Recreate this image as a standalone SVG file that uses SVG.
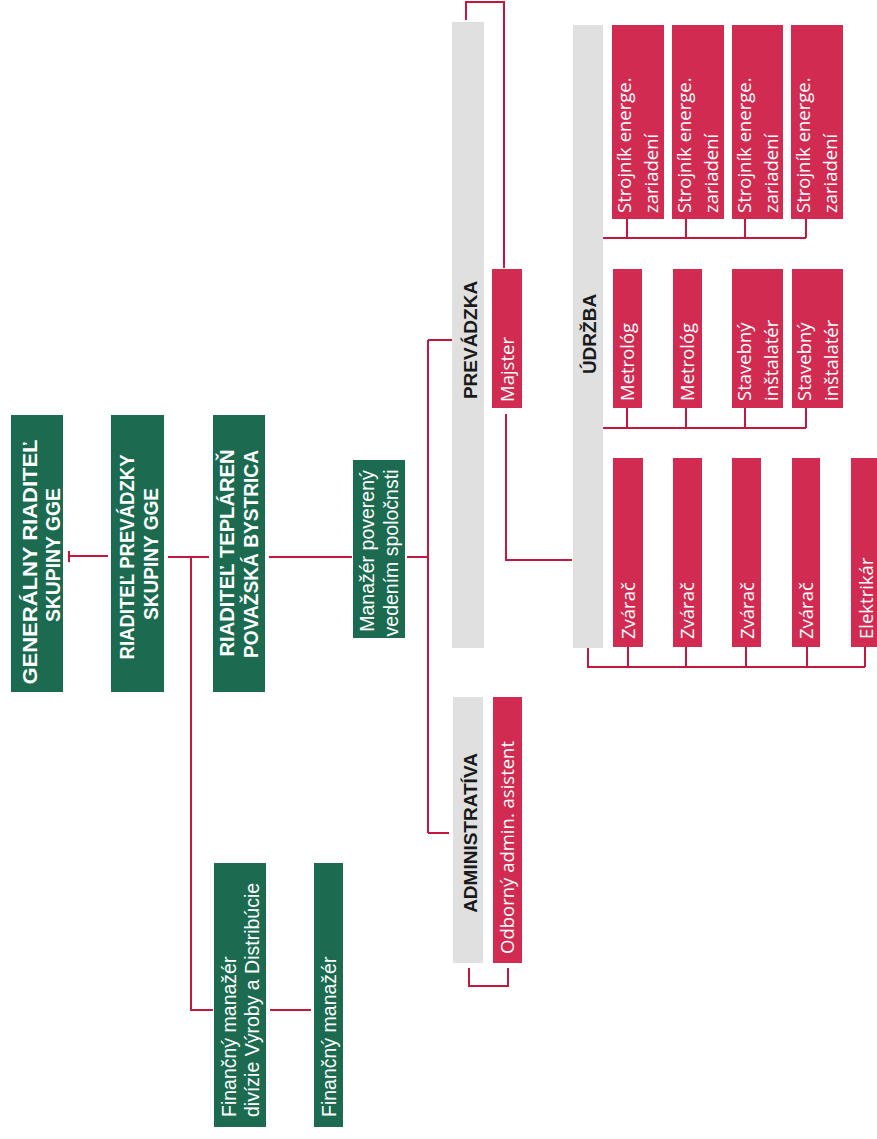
<svg xmlns="http://www.w3.org/2000/svg" width="877" height="1139" viewBox="0 0 877 1139">
<style>
.g{fill:#1c6b50}
.r{fill:#d22b52}
.gr{fill:#e0e0e0}
.gt{font-family:"Liberation Sans",Arial,sans-serif;font-weight:bold;font-size:21px;fill:#ffffff}
.gs{font-family:"Liberation Sans",Arial,sans-serif;font-size:19.5px;fill:#ffffff}
.rt{font-family:"Open Sans","Liberation Sans",sans-serif;font-size:18.5px;fill:#ffffff}
.ht{font-family:"Liberation Sans",Arial,sans-serif;font-weight:bold;font-size:19px;fill:#1a1a1a}
.c{fill:none;stroke:#c4173f;stroke-width:2}
</style>
<rect width="877" height="1139" fill="#ffffff"/>

<g id="connectors" class="c">
<path d="M69,556 H108 M69,551 V562"/>
<path d="M168,557 H209 M191,557 V1010 H213 M270,1010 H311"/>
<path d="M269,557 H352 M407,557 H428 M428,340 V833 M428,340 H452 M428,833 H449"/>
<path d="M466,20 V2 H504 V268"/>
<path d="M506,414 V560 H572"/>
<path d="M603,238 H806 M627,219 V238 M686,219 V238 M745,219 V238 M806,219 V238"/>
<path d="M603,428 H806 M627,408 V428 M686,408 V428 M745,408 V428 M806,408 V428"/>
<path d="M588,648 V667 H865 M628,647 V667 M686,647 V667 M746,647 V667 M807,647 V667 M865,647 V667"/>
<path d="M469,968 V986 H508 V968"/>
</g>

<g id="n-generalny"><rect class="g" x="11" y="415" width="52" height="277"/>
<text class="gt" transform="translate(37,562) rotate(-90)" text-anchor="middle" textLength="245" lengthAdjust="spacingAndGlyphs">GENERÁLNY RIADITEĽ</text>
<text class="gt" transform="translate(60,555) rotate(-90)" text-anchor="middle" textLength="134" lengthAdjust="spacingAndGlyphs">SKUPINY GGE</text></g>

<g id="n-prevadzky"><rect class="g" x="111" y="415" width="53" height="277"/>
<text class="gt" transform="translate(134,557) rotate(-90)" text-anchor="middle" textLength="205" lengthAdjust="spacingAndGlyphs">RIADITEĽ PREVÁDZKY</text>
<text class="gt" transform="translate(158,554) rotate(-90)" text-anchor="middle" textLength="132" lengthAdjust="spacingAndGlyphs">SKUPINY GGE</text></g>

<g id="n-teplaren"><rect class="g" x="213" y="415" width="52" height="277"/>
<text class="gt" transform="translate(234,553) rotate(-90)" text-anchor="middle" textLength="207" lengthAdjust="spacingAndGlyphs">RIADITEĽ TEPLÁREŇ</text>
<text class="gt" transform="translate(258,554) rotate(-90)" text-anchor="middle" textLength="208" lengthAdjust="spacingAndGlyphs">POVAŽSKÁ BYSTRICA</text></g>

<g id="n-manazer"><rect class="g" x="353" y="460" width="52" height="178"/>
<text class="gs" transform="translate(374,551) rotate(-90)" text-anchor="middle">Manažér poverený</text>
<text class="gs" transform="translate(398,553) rotate(-90)" text-anchor="middle">vedením spoločnsti</text></g>

<g id="n-fin-divizie"><rect class="g" x="214" y="863" width="52" height="264"/>
<text class="gs" transform="translate(236,1117) rotate(-90)">Finančný manažér</text>
<text class="gs" transform="translate(259,1117) rotate(-90)">divízie Výroby a Distribúcie</text></g>

<g id="n-fin"><rect class="g" x="314" y="863" width="29" height="264"/>
<text class="gs" transform="translate(336,1117) rotate(-90)">Finančný manažér</text></g>

<g id="n-prevadzka"><rect class="gr" x="452" y="22" width="32" height="626"/>
<text class="ht" transform="translate(477,340) rotate(-90)" text-anchor="middle">PREVÁDZKA</text></g>

<g id="n-majster"><rect class="r" x="492" y="269" width="30" height="139"/>
<text class="rt" transform="translate(514,402) rotate(-90)">Majster</text></g>

<g id="n-administrativa"><rect class="gr" x="453" y="697" width="30" height="266"/>
<text class="ht" transform="translate(477,833) rotate(-90)" text-anchor="middle">ADMINISTRATÍVA</text></g>

<g id="n-odborny"><rect class="r" x="493" y="697" width="29" height="266"/>
<text class="rt" transform="translate(514,954) rotate(-90)">Odborný admin. asistent</text></g>

<g id="n-udrzba"><rect class="gr" x="573" y="25" width="30" height="623"/>
<text class="ht" transform="translate(596,334) rotate(-90)" text-anchor="middle">ÚDRŽBA</text></g>

<g id="n-strojnik1"><rect class="r" x="612" y="25" width="52" height="194"/>
<text class="rt" transform="translate(631,213) rotate(-90)">Strojník energe.</text>
<text class="rt" transform="translate(658,213) rotate(-90)">zariadení</text></g>
<g id="n-strojnik2"><rect class="r" x="672" y="25" width="52" height="194"/>
<text class="rt" transform="translate(691,213) rotate(-90)">Strojník energe.</text>
<text class="rt" transform="translate(718,213) rotate(-90)">zariadení</text></g>
<g id="n-strojnik3"><rect class="r" x="732" y="25" width="51" height="194"/>
<text class="rt" transform="translate(751,213) rotate(-90)">Strojník energe.</text>
<text class="rt" transform="translate(778,213) rotate(-90)">zariadení</text></g>
<g id="n-strojnik4"><rect class="r" x="791" y="25" width="52" height="194"/>
<text class="rt" transform="translate(810,213) rotate(-90)">Strojník energe.</text>
<text class="rt" transform="translate(837,213) rotate(-90)">zariadení</text></g>

<g id="n-metrolog1"><rect class="r" x="613" y="269" width="29" height="139"/>
<text class="rt" transform="translate(634,401) rotate(-90)">Metrológ</text></g>
<g id="n-metrolog2"><rect class="r" x="673" y="269" width="29" height="139"/>
<text class="rt" transform="translate(694,401) rotate(-90)">Metrológ</text></g>
<g id="n-stavebny1"><rect class="r" x="732" y="269" width="51" height="139"/>
<text class="rt" transform="translate(751,401) rotate(-90)">Stavebný</text>
<text class="rt" transform="translate(778,401) rotate(-90)">inštalatér</text></g>
<g id="n-stavebny2"><rect class="r" x="792" y="269" width="51" height="139"/>
<text class="rt" transform="translate(811,401) rotate(-90)">Stavebný</text>
<text class="rt" transform="translate(838,401) rotate(-90)">inštalatér</text></g>

<g id="n-zvarac1"><rect class="r" x="613" y="458" width="30" height="189"/>
<text class="rt" transform="translate(635,639) rotate(-90)">Zvárač</text></g>
<g id="n-zvarac2"><rect class="r" x="673" y="458" width="29" height="189"/>
<text class="rt" transform="translate(694,639) rotate(-90)">Zvárač</text></g>
<g id="n-zvarac3"><rect class="r" x="732" y="458" width="29" height="189"/>
<text class="rt" transform="translate(754,639) rotate(-90)">Zvárač</text></g>
<g id="n-zvarac4"><rect class="r" x="792" y="458" width="28" height="189"/>
<text class="rt" transform="translate(813,639) rotate(-90)">Zvárač</text></g>
<g id="n-elektrikar"><rect class="r" x="851" y="458" width="30" height="189"/>
<text class="rt" transform="translate(873,639) rotate(-90)">Elektrikár</text></g>
</svg>
